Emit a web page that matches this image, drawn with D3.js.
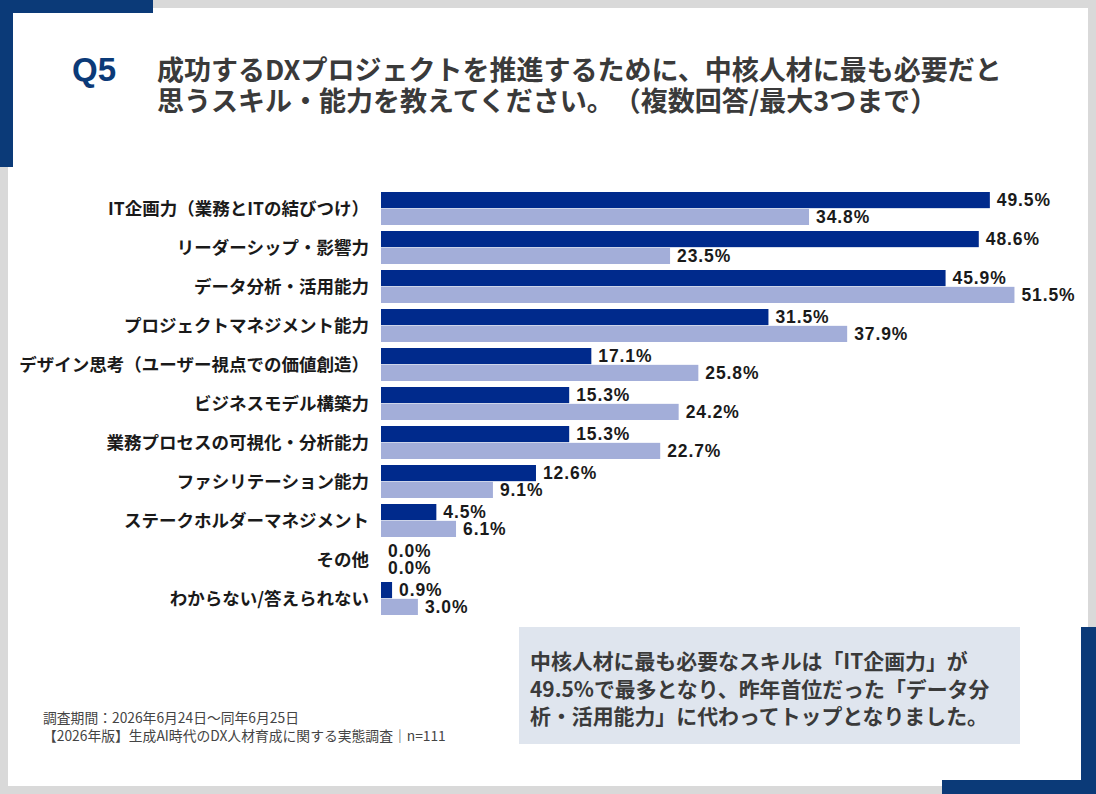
<!DOCTYPE html>
<html>
<head>
<meta charset="utf-8">
<script src="https://cdn.jsdelivr.net/npm/d3@7"></script>
<style>
  html, body { margin: 0; padding: 0; background: #d9d9d9; }
  svg { display: block; }
  svg text { text-spacing-trim: space-all; }
</style>
</head>
<body>
<svg id="chart" width="1096" height="794"></svg>
<script>
// categories, top to bottom
var categories = [
	"IT企画力（業務とITの結びつけ）",
	"リーダーシップ・影響力",
	"データ分析・活用能力",
	"プロジェクトマネジメント能力",
	"デザイン思考（ユーザー視点での価値創造）",
	"ビジネスモデル構築力",
	"業務プロセスの可視化・分析能力",
	"ファシリテーション能力",
	"ステークホルダーマネジメント",
	"その他",
	"わからない/答えられない"
];

// this year (dark) and last year (light), percent
var valuesCurrent = [49.5, 48.6, 45.9, 31.5, 17.1, 15.3, 15.3, 12.6, 4.5, 0.0, 0.9];
var valuesPrevious = [34.8, 23.5, 51.5, 37.9, 25.8, 24.2, 22.7, 9.1, 6.1, 0.0, 3.0];

var seriesKeys = ["current", "previous"];
var seriesColors = ["#002a8c", "#a3aed9"];

var titleLines = [
	"成功するDXプロジェクトを推進するために、中核人材に最も必要だと",
	"思うスキル・能力を教えてください。（複数回答/最大3つまで）"
];
var noteLines = [
	"中核人材に最も必要なスキルは「IT企画力」が",
	"49.5%で最多となり、昨年首位だった「データ分",
	"析・活用能力」に代わってトップとなりました。"
];
var footLines = [
	"調査期間：2026年6月24日～同年6月25日",
	"【2026年版】生成AI時代のDX人材育成に関する実態調査｜n=111"
];

var svg = d3.select("#chart");
var jp = "'Noto Sans CJK JP', 'Noto Sans', sans-serif";
var latin = "'Liberation Sans', Arial, sans-serif";
var navy = "#0b3a78";

// page frame
svg.append("rect").attr("x", 0).attr("y", 0).attr("width", 1096).attr("height", 794).attr("fill", "#d9d9d9");
svg.append("rect").attr("x", 8).attr("y", 8).attr("width", 1080).attr("height", 778).attr("fill", "#ffffff");
svg.append("rect").attr("x", 0).attr("y", 0).attr("width", 153).attr("height", 13).attr("fill", navy);
svg.append("rect").attr("x", 0).attr("y", 0).attr("width", 13).attr("height", 167).attr("fill", navy);
svg.append("rect").attr("x", 1081).attr("y", 627).attr("width", 15).attr("height", 167).attr("fill", navy);
svg.append("rect").attr("x", 942).attr("y", 780).attr("width", 154).attr("height", 14).attr("fill", navy);

// title
svg.append("text")
	.attr("x", 72).attr("y", 81)
	.attr("font-family", latin)
	.attr("font-weight", "bold").attr("font-size", 33)
	.attr("fill", navy)
	.text("Q5");

svg.append("g").selectAll("text")
	.data(titleLines)
	.join("text")
	.attr("x", 157)
	.attr("y", function(d, i) { return 80 + i * 31; })
	.attr("font-family", jp).attr("font-weight", "bold").attr("font-size", 27)
	.attr("fill", "#3a3a3a")
	.text(function(d) { return d; });

// scales
var x = d3.scaleLinear().domain([0, 50]).range([381, 996]);
var y = d3.scaleBand().domain(categories).range([189, 618]).paddingInner(0.154).paddingOuter(0.077);
var ySub = d3.scaleBand().domain(seriesKeys).range([0, y.bandwidth()]).paddingInner(0.04);
var color = d3.scaleOrdinal().domain(seriesKeys).range(seriesColors);

var rows = categories.map(function(c, i) {
	return {
		id: c,
		points: [
			{ key: "current", value: valuesCurrent[i] },
			{ key: "previous", value: valuesPrevious[i] }
		]
	};
});

var groups = svg.append("g").selectAll(".barGroup")
	.data(rows, function(r) { return r.id; })
	.join("g")
	.classed("barGroup", true)
	.attr("transform", function(r) { return "translate(0," + y(r.id) + ")"; });

groups.append("text")
	.attr("x", 369)
	.attr("y", y.bandwidth() / 2)
	.attr("dy", "0.35em")
	.attr("text-anchor", "end")
	.attr("font-family", jp).attr("font-weight", "bold").attr("font-size", 17.5)
	.attr("fill", "#1a1a1a")
	.text(function(r) { return r.id; });

groups.selectAll("rect")
	.data(function(r) { return r.points; })
	.join("rect")
	.attr("x", x(0))
	.attr("y", function(p) { return ySub(p.key); })
	.attr("width", function(p) { return x(p.value) - x(0); })
	.attr("height", ySub.bandwidth())
	.attr("fill", function(p) { return color(p.key); });

groups.selectAll(".val")
	.data(function(r) { return r.points; })
	.join("text")
	.classed("val", true)
	.attr("x", function(p) { return x(p.value) + 7; })
	.attr("y", function(p) { return ySub(p.key) + ySub.bandwidth() / 2; })
	.attr("dy", "0.36em")
	.attr("font-family", latin)
	.attr("font-weight", "bold").attr("font-size", 17.5)
	.attr("letter-spacing", 0.9)
	.attr("fill", "#1a1a1a")
	.text(function(p) { return p.value.toFixed(1) + "%"; });

// callout box
svg.append("rect")
	.attr("x", 519).attr("y", 627).attr("width", 501).attr("height", 117)
	.attr("fill", "#dfe5ee");

svg.append("g").selectAll("text")
	.data(noteLines)
	.join("text")
	.attr("x", 530)
	.attr("y", function(d, i) { return 669 + i * 27.5; })
	.attr("font-family", jp).attr("font-weight", "bold").attr("font-size", 20.9)
	.attr("fill", "#3a3a3a")
	.text(function(d) { return d; });

// footnote
svg.append("g").selectAll("text")
	.data(footLines)
	.join("text")
	.attr("x", 43)
	.attr("y", function(d, i) { return 723 + i * 18; })
	.attr("font-family", jp).attr("font-size", 13.8)
	.attr("fill", "#444")
	.text(function(d) { return d; });
</script>
</body>
</html>
